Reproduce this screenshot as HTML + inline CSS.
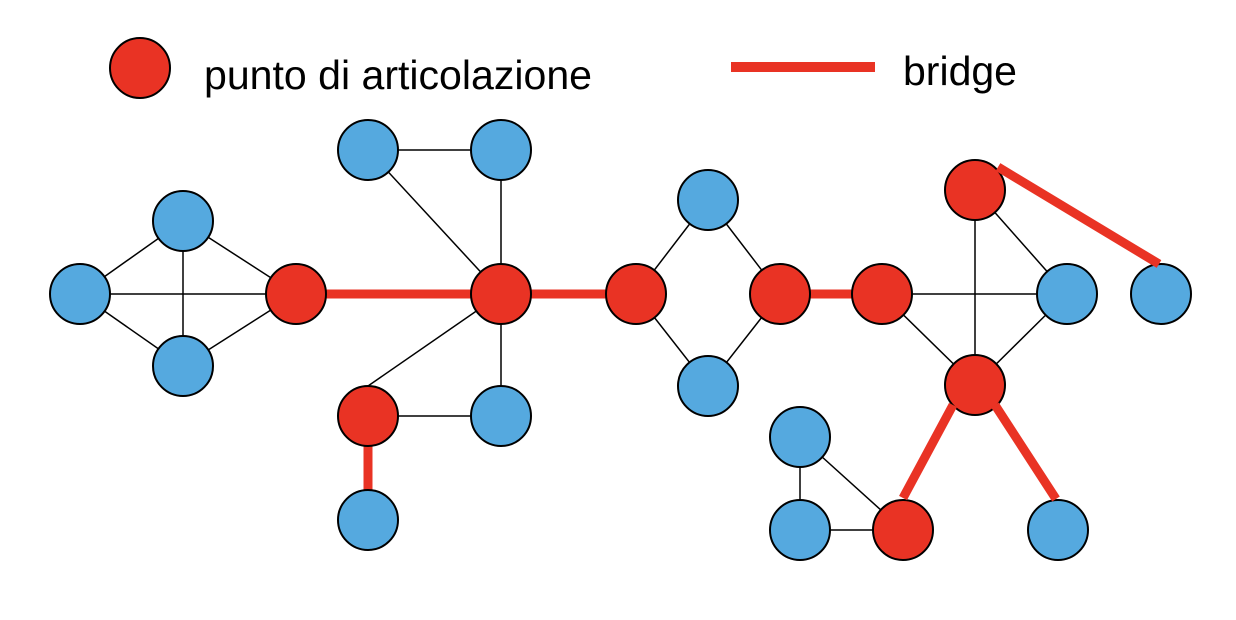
<!DOCTYPE html>
<html><head><style>body{margin:0;background:#fff}svg{display:block}</style></head><body>
<svg width="1236" height="620" viewBox="0 0 1236 620" xmlns="http://www.w3.org/2000/svg">
<g stroke="#000" stroke-width="1.5">
<line x1="80" y1="294" x2="183" y2="221"/><line x1="80" y1="294" x2="183" y2="366"/><line x1="80" y1="294" x2="296" y2="294"/>
<line x1="183" y1="221" x2="183" y2="366"/><line x1="183" y1="221" x2="296" y2="294"/><line x1="183" y1="366" x2="296" y2="294"/>
<line x1="368" y1="150" x2="501" y2="150"/><line x1="368" y1="150" x2="501" y2="294"/><line x1="501" y1="150" x2="501" y2="294"/>
<line x1="501" y1="294" x2="368" y2="386"/><line x1="368" y1="416" x2="501" y2="416"/><line x1="501" y1="294" x2="501" y2="416"/>
<line x1="636" y1="294" x2="708" y2="200"/><line x1="636" y1="294" x2="708" y2="386"/><line x1="708" y1="200" x2="780" y2="294"/><line x1="708" y1="386" x2="780" y2="294"/>
<line x1="882" y1="294" x2="1067" y2="294"/><line x1="882" y1="294" x2="975" y2="385"/><line x1="975" y1="190" x2="975" y2="385"/><line x1="975" y1="190" x2="1067" y2="294"/><line x1="975" y1="385" x2="1067" y2="294"/>
<line x1="800" y1="437" x2="800" y2="530"/><line x1="800" y1="437" x2="903" y2="530"/><line x1="800" y1="530" x2="903" y2="530"/>
</g>
<g stroke="#E93324" stroke-width="9">
<line x1="326" y1="294" x2="472" y2="294"/><line x1="530" y1="294" x2="606" y2="294"/><line x1="810" y1="294" x2="852" y2="294"/>
<line x1="368" y1="446" x2="368" y2="490"/>
</g>
<g stroke="#000" stroke-width="2">
<g fill="#55A9DF">
<circle cx="80" cy="294" r="30"/><circle cx="183" cy="221" r="30"/><circle cx="183" cy="366" r="30"/>
<circle cx="368" cy="150" r="30"/><circle cx="501" cy="150" r="30"/><circle cx="501" cy="416" r="30"/><circle cx="368" cy="520" r="30"/>
<circle cx="708" cy="200" r="30"/><circle cx="708" cy="386" r="30"/>
<circle cx="1067" cy="294" r="30"/><circle cx="1161" cy="294" r="30"/>
<circle cx="800" cy="437" r="30"/><circle cx="800" cy="530" r="30"/><circle cx="1058" cy="530" r="30"/>
</g>
<g fill="#E93324">
<circle cx="140" cy="68" r="30"/>
<circle cx="296" cy="294" r="30"/><circle cx="501" cy="294" r="30"/><circle cx="368" cy="416" r="30"/>
<circle cx="636" cy="294" r="30"/><circle cx="780" cy="294" r="30"/><circle cx="882" cy="294" r="30"/>
<circle cx="975" cy="190" r="30"/><circle cx="975" cy="385" r="30"/><circle cx="903" cy="530" r="30"/>
</g>
</g>
<g stroke="#E93324" stroke-width="9">
<line x1="998" y1="167" x2="1159" y2="264"/>
<line x1="953" y1="405" x2="903" y2="498"/>
<line x1="995" y1="405" x2="1056" y2="499"/>
<line x1="731" y1="67" x2="875" y2="67" stroke-width="10"/>
</g>
<g font-family="Liberation Sans, sans-serif" font-size="41" fill="#000">
<text x="204" y="89" textLength="388" lengthAdjust="spacingAndGlyphs">punto di articolazione</text>
<text x="903" y="85" textLength="114" lengthAdjust="spacingAndGlyphs">bridge</text>
</g>
</svg>
</body></html>
